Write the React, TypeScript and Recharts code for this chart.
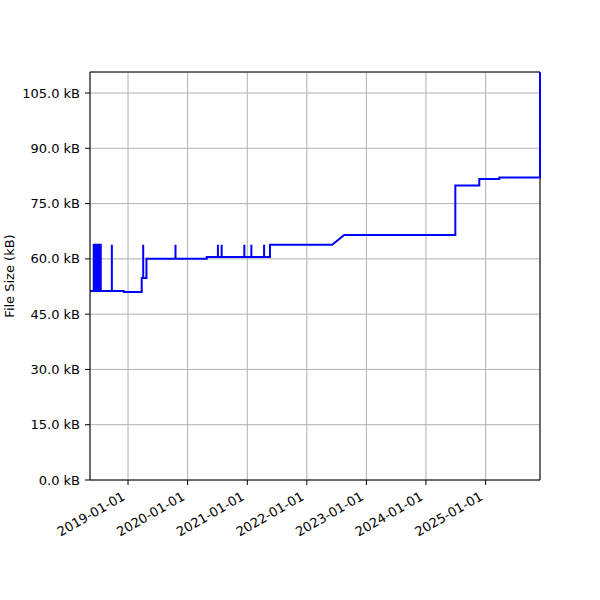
import React from "react";
import { LineChart, Line, XAxis, YAxis, CartesianGrid, ReferenceLine } from "recharts";

// size of the bundle over time (kB), one entry per change
const releaseDates = [
  "2018-05-13",
  "2018-06-05", "2018-06-05", "2018-06-11", "2018-06-11",
  "2018-06-17", "2018-06-17", "2018-06-22", "2018-06-22",
  "2018-06-28", "2018-06-28", "2018-07-04", "2018-07-04",
  "2018-07-10", "2018-07-10", "2018-07-18", "2018-07-18",
  "2018-09-24", "2018-09-24", "2018-09-24",
  "2018-12-06", "2018-12-06",
  "2019-03-26", "2019-03-26",
  "2019-04-04", "2019-04-04", "2019-04-04",
  "2019-04-24", "2019-04-24",
  "2019-10-19", "2019-10-19", "2019-10-19",
  "2020-04-28", "2020-04-28",
  "2020-07-05", "2020-07-05", "2020-07-05",
  "2020-07-28", "2020-07-28", "2020-07-28",
  "2020-12-14", "2020-12-14", "2020-12-14",
  "2021-01-26", "2021-01-26", "2021-01-26",
  "2021-04-14", "2021-04-14", "2021-04-14",
  "2021-05-20", "2021-05-20",
  "2022-06-05", "2022-08-18",
  "2024-06-29", "2024-06-29",
  "2024-11-23", "2024-11-23",
  "2025-03-26", "2025-03-26",
  "2025-11-30", "2025-11-30",
];

const fileSizes = [
  51.3,
  51.3, 63.8, 63.8, 51.3,
  51.3, 63.8, 63.8, 51.3,
  51.3, 63.8, 63.8, 51.3,
  51.3, 63.8, 63.8, 51.3,
  51.3, 63.8, 51.3,
  51.3, 51.0,
  51.0, 54.8,
  54.8, 63.8, 54.8,
  54.8, 60.0,
  60.0, 63.8, 60.0,
  60.0, 60.5,
  60.5, 63.8, 60.5,
  60.5, 63.8, 60.5,
  60.5, 63.8, 60.5,
  60.5, 63.8, 60.5,
  60.5, 63.8, 60.5,
  60.5, 63.8,
  63.8, 66.5,
  66.5, 79.9,
  79.9, 81.7,
  81.7, 82.1,
  82.1, 110.7,
];

const yearTicks = ["2019-01-01", "2020-01-01", "2021-01-01", "2022-01-01", "2023-01-01", "2024-01-01", "2025-01-01"];
const sizeTicks = [0, 15, 30, 45, 60, 75, 90, 105];

const data = releaseDates.map((d, i) => ({ t: Date.parse(d), size: fileSizes[i] }));
const tStart = data[0].t;
const tEnd = data[data.length - 1].t;
const yTop = Math.max(...fileSizes);

const font = "DejaVu Sans, sans-serif";

const fmtDate = (t: number) => new Date(t).toISOString().slice(0, 10);

const DateTick = ({ x, y, payload }: any) => (
  <text
    x={x - 2}
    y={y + 14}
    transform={`rotate(-30, ${x - 2}, ${y + 14})`}
    textAnchor="end"
    fontSize={13}
    fontFamily={font}
    fill="#000"
  >
    {fmtDate(payload.value)}
  </text>
);

const yTitle = (props: any) => {
  const vb = props.viewBox;
  const cy = vb.y + vb.height / 2;
  return (
    <text x={14} y={cy} transform={`rotate(-90, 14, ${cy})`} textAnchor="middle" fontSize={13} fontFamily={font} fill="#000">
      File Size (kB)
    </text>
  );
};

export default function App() {
  return (
    <div style={{ position: "absolute", left: 0, top: 0 }}>
      <LineChart width={600} height={600} data={data} margin={{ top: 72, right: 60, left: 0, bottom: 0 }}>
        <CartesianGrid stroke="#b0b0b0" strokeWidth={1} />
        <XAxis
          dataKey="t"
          type="number"
          domain={[tStart, tEnd]}
          ticks={yearTicks.map((d) => Date.parse(d))}
          tick={<DateTick />}
          tickSize={5}
          tickMargin={0}
          height={120}
          interval={0}
          stroke="#000"
          tickLine={{ stroke: "#000" }}
          axisLine={{ stroke: "#000" }}
        />
        <YAxis
          type="number"
          domain={[0, yTop]}
          ticks={sizeTicks}
          tickFormatter={(v: number) => `${v.toFixed(1)} kB`}
          tick={{ fontSize: 13, fontFamily: font, fill: "#000" }}
          tickSize={5}
          tickMargin={5}
          width={90}
          interval={0}
          stroke="#000"
          tickLine={{ stroke: "#000" }}
          axisLine={{ stroke: "#000" }}
          label={{ content: yTitle }}
        />
        <ReferenceLine y={yTop} stroke="#000" strokeWidth={1} />
        <ReferenceLine x={tEnd} stroke="#000" strokeWidth={1} />
        <Line
          type="linear"
          dataKey="size"
          stroke="#0000ff"
          strokeWidth={2}
          dot={false}
          activeDot={false}
          isAnimationActive={false}
        />
      </LineChart>
    </div>
  );
}
